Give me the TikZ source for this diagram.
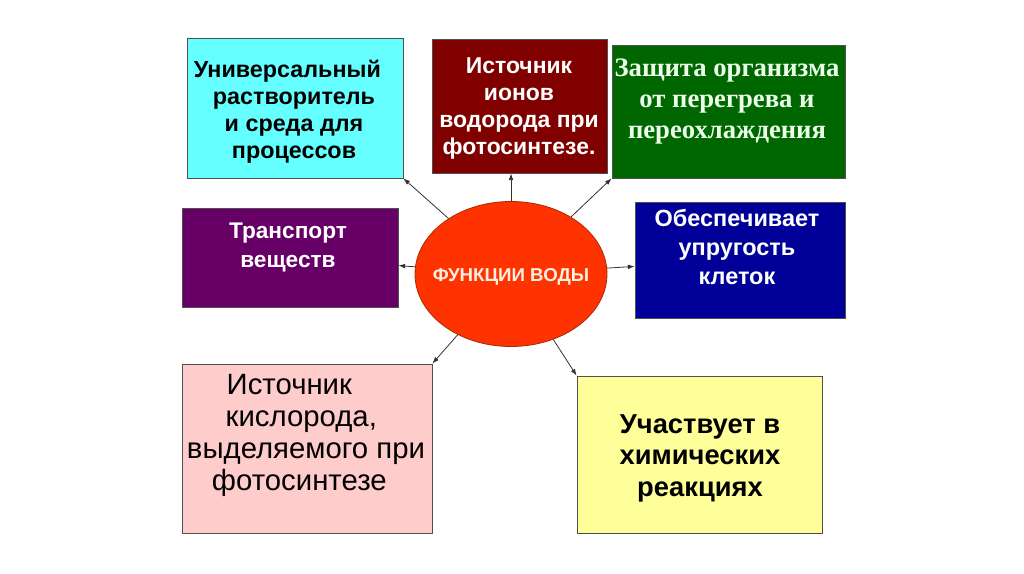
\documentclass[tikz,border=0pt]{standalone}
\usepackage{fontspec}
\setmainfont{Liberation Sans}
\newfontfamily\timesbold{Liberation Serif}
\usetikzlibrary{arrows.meta,shapes.geometric}

\tikzset{
  fbox/.style={draw={rgb, 255:red, 80; green, 80; blue, 80 }, line width=0.6pt, inner sep=0pt},
  ftext/.style={align=center, inner sep=0pt},
  farrow/.style={draw={rgb, 255:red, 50; green, 50; blue, 50 }, line width=0.6pt, -{Latex[length=5pt,width=3.6pt]}},
}
\newcommand{\fsz}[2]{\fontsize{#1}{#2}\selectfont}
\newcommand{\trail}[1]{\rule{#1}{0pt}}

\begin{document}
\begin{tikzpicture}[x=0.75pt,y=0.75pt,yscale=-1,xscale=1]
\useasboundingbox (0,0) rectangle (1024,574);

%Centre ellipse
\node [draw={rgb, 255:red, 170; green, 40; blue, 0 }, line width=0.6pt, fill={rgb, 255:red, 255; green, 51; blue, 0 }, ellipse, inner sep=0pt, minimum width=144pt, minimum height=108.75pt] (water) at (511,274) {};
\node [ftext, text={rgb, 255:red, 255; green, 240; blue, 225 }, font=\bfseries\fsz{14pt}{17pt}] (water-txt) at (511,277) {ФУНКЦИИ ВОДЫ};

%Boxes
\node [fbox, fill={rgb, 255:red, 102; green, 255; blue, 255 }, minimum width=162pt, minimum height=105pt] (solvent) at (295,108) {};
\node [fbox, fill={rgb, 255:red, 128; green, 0; blue, 0 }, minimum width=131.25pt, minimum height=100.5pt] (ions) at (519.5,106) {};
\node [fbox, fill={rgb, 255:red, 0; green, 102; blue, 0 }, minimum width=174.75pt, minimum height=99.75pt] (protect) at (728.5,111.5) {};
\node [fbox, fill={rgb, 255:red, 102; green, 0; blue, 102 }, minimum width=162pt, minimum height=74.25pt] (transport) at (290,257.5) {};
\node [fbox, fill={rgb, 255:red, 0; green, 0; blue, 153 }, minimum width=157.5pt, minimum height=87pt] (turgor) at (740,260) {};
\node [fbox, fill={rgb, 255:red, 255; green, 204; blue, 204 }, minimum width=187.5pt, minimum height=126.75pt] (oxygen) at (307,448.5) {};
\node [fbox, fill={rgb, 255:red, 255; green, 255; blue, 153 }, minimum width=183.75pt, minimum height=117.75pt] (reaction) at (699.5,454.5) {};

% Text Node
\node [ftext, font=\bfseries\fsz{17.5pt}{20.25pt}] (solvent-txt) at (294,112) {Универсальный\trail{10pt}\\растворитель\\и среда для\\процессов};
% Text Node
\node [ftext, text=white, font=\bfseries\fsz{17.2pt}{20.25pt}] (ions-txt) at (519,108) {Источник\\ионов\\водорода при\\фотосинтезе.};
% Text Node
\node [ftext, text={rgb, 255:red, 235; green, 255; blue, 235 }, font=\timesbold\bfseries\fsz{20pt}{23.25pt}] (protect-txt) at (727,102) {Защита организма\\от перегрева и\\переохлаждения};
% Text Node
\node [ftext, text=white, font=\bfseries\fsz{17pt}{21.75pt}] (transport-txt) at (288,247) {Транспорт\\веществ};
% Text Node
\node [ftext, text=white, font=\bfseries\fsz{17.6pt}{21.4pt}] (turgor-txt) at (737,247) {Обеспечивает\\упругость\\клеток};
% Text Node
\node [ftext, font=\fsz{22pt}{24pt}] (oxygen-txt) at (306,435) {Источник\trail{25pt}\\кислорода,\trail{7pt}\\выделяемого при\\фотосинтезе\trail{10pt}};
% Text Node
\node [ftext, font=\bfseries\fsz{20.5pt}{23.6pt}] (reaction-txt) at (700,458) {Участвует в\\химических\\реакциях};

%Arrows
\draw [farrow] (water) -- (solvent.south east);
\draw [farrow] (water.north) -- (water.north |- ions.south);
\draw [farrow] (water) -- (protect.south west);
\draw [farrow] (water) -- (transport);
\draw [farrow] (water) -- (turgor);
\draw [farrow] (water) -- (oxygen.north east);
\draw [farrow] (water) -- (reaction.north west);

\end{tikzpicture}
\end{document}
